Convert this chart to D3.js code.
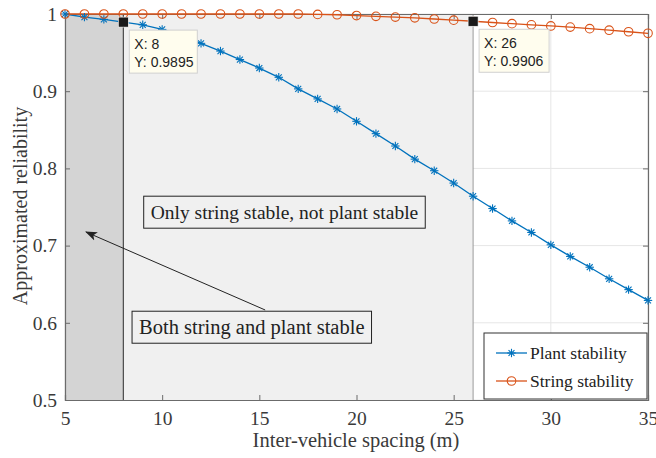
<!DOCTYPE html>
<html>
<head>
<meta charset="utf-8">
<script src="https://cdn.jsdelivr.net/npm/d3@7"></script>
<style>
  body { margin: 0; background: #fff; }
  svg { display: block; }
</style>
</head>
<body>
<div id="viz"></div>
<script>
// Spacing values (m)
var spacing = d3.range(5, 36);

// Plant stability reliability
var plant = [1.000, 0.996, 0.993, 0.9895, 0.986, 0.980, 0.972, 0.962, 0.952, 0.941,
             0.930, 0.918, 0.903, 0.890, 0.877, 0.861, 0.845, 0.829, 0.812, 0.797,
             0.781, 0.764, 0.748, 0.732, 0.717, 0.701, 0.686, 0.672, 0.657, 0.643, 0.629];

// String stability reliability
var string = [1.000, 1.000, 1.000, 1.000, 1.000, 1.000, 1.000, 1.000, 1.000, 1.000,
              1.000, 1.000, 1.000, 0.9995, 0.999, 0.998, 0.997, 0.996, 0.995, 0.9935,
              0.992, 0.9906, 0.989, 0.9875, 0.986, 0.9845, 0.983, 0.981, 0.979, 0.977, 0.975];

var xTicks = [5, 10, 15, 20, 25, 30, 35];
var yTicks = [0.5, 0.6, 0.7, 0.8, 0.9, 1];

// Regions: both stable (5-8), only string stable (8-26)
var regions = [
  {x0: 5, x1: 8, fill: '#d4d4d4', edge: '#2a2a2a'},
  {x0: 8, x1: 26, fill: '#f0f0f0', edge: '#9a9a9a'}
];

// Data tips
var tips = [
  {x: 8, y: 0.9895, label: 'Y: 0.9895'},
  {x: 26, y: 0.9906, label: 'Y: 0.9906'}
];

var margin = {top: 14, right: 8, bottom: 58, left: 65},
    width = 656 - margin.left - margin.right,
    height = 458 - margin.top - margin.bottom;

var svg = d3.select('#viz').append('svg')
  .attr('width', 656)
  .attr('height', 458);

var g = svg.append('g')
  .attr('transform', 'translate(' + margin.left + ',' + margin.top + ')');

var x = d3.scaleLinear().domain([5, 35]).range([0, width]);
var y = d3.scaleLinear().domain([0.5, 1]).range([height, 0]);

var serif = "'Liberation Serif', 'Times New Roman', serif";
var sans = "'Liberation Sans', Arial, sans-serif";

// Grid
g.append('g').selectAll('line.gx')
  .data(xTicks).enter().append('line')
  .attr('x1', d => x(d)).attr('x2', d => x(d))
  .attr('y1', 0).attr('y2', height)
  .attr('stroke', '#e6e6e6').attr('stroke-width', 1);
g.append('g').selectAll('line.gy')
  .data(yTicks).enter().append('line')
  .attr('y1', d => y(d)).attr('y2', d => y(d))
  .attr('x1', 0).attr('x2', width)
  .attr('stroke', '#e6e6e6').attr('stroke-width', 1);

// Shaded regions
g.selectAll('rect.region')
  .data(regions).enter().append('rect')
  .attr('x', d => x(d.x0))
  .attr('width', d => x(d.x1) - x(d.x0))
  .attr('y', y(1)).attr('height', y(0.5) - y(1))
  .attr('fill', d => d.fill);
g.selectAll('line.edge')
  .data(regions).enter().append('line')
  .attr('x1', d => x(d.x1)).attr('x2', d => x(d.x1))
  .attr('y1', y(1)).attr('y2', y(0.5))
  .attr('stroke', d => d.edge).attr('stroke-width', 1);

// Axes (inward ticks, box)
var xAxis = d3.axisBottom(x).tickValues(xTicks).tickSize(-5).tickPadding(9).tickFormat(d3.format('d'));
var yAxis = d3.axisLeft(y).tickValues(yTicks).tickSize(-5).tickPadding(8).tickFormat(d => d === 1 ? '1' : d3.format('.1f')(d));

var gx = g.append('g').attr('transform', 'translate(0,' + height + ')').call(xAxis);
var gy = g.append('g').call(yAxis);
g.append('g').attr('transform', 'translate(0,0)')
  .call(d3.axisTop(x).tickValues(xTicks).tickSize(-5).tickFormat(''));
g.append('g').attr('transform', 'translate(' + width + ',0)')
  .call(d3.axisRight(y).tickValues(yTicks).tickSize(-5).tickFormat(''));

g.selectAll('.domain').attr('stroke', '#6b6b6b').attr('stroke-width', 1.2);
g.selectAll('.tick line').attr('stroke', '#6b6b6b');
g.selectAll('.tick text')
  .attr('font-family', serif).attr('font-size', 19.5).attr('fill', '#3a3a3a');
gx.selectAll('.tick text').attr('dy', '0.8em');

// Axis labels
svg.append('text')
  .attr('x', 356).attr('y', 447)
  .attr('text-anchor', 'middle')
  .attr('font-family', serif).attr('font-size', 20.5).attr('fill', '#3a3a3a')
  .text('Inter-vehicle spacing (m)');
svg.append('text')
  .attr('transform', 'translate(27,' + 206 + ') rotate(-90)')
  .attr('text-anchor', 'middle')
  .attr('font-family', serif).attr('font-size', 20).attr('fill', '#3a3a3a')
  .text('Approximated reliability');

// Lines
var line = d3.line().x((d, i) => x(spacing[i])).y(d => y(d));

g.append('path').datum(plant)
  .attr('d', line).attr('fill', 'none')
  .attr('stroke', '#0072BD').attr('stroke-width', 1.3);
g.append('path').datum(string)
  .attr('d', line).attr('fill', 'none')
  .attr('stroke', '#D95319').attr('stroke-width', 1.3);

// Star markers
function drawStar(sel, cx, cy) {
  var s = sel.append('g').attr('transform', 'translate(' + cx + ',' + cy + ')')
    .attr('stroke', '#0072BD').attr('stroke-width', 1.1).attr('fill', 'none');
  var r = 4.2;
  [0, 45, 90, 135].forEach(function(a) {
    var rad = a * Math.PI / 180;
    s.append('line')
      .attr('x1', -r * Math.cos(rad)).attr('y1', -r * Math.sin(rad))
      .attr('x2', r * Math.cos(rad)).attr('y2', r * Math.sin(rad));
  });
}
var starLayer = g.append('g');
plant.forEach(function(v, i) { drawStar(starLayer, x(spacing[i]), y(v)); });

g.append('g').selectAll('circle')
  .data(string).enter().append('circle')
  .attr('cx', (d, i) => x(spacing[i])).attr('cy', d => y(d))
  .attr('r', 4.3).attr('fill', 'none')
  .attr('stroke', '#D95319').attr('stroke-width', 1.1);

// Data tips
tips.forEach(function(t) {
  var px = x(t.x), py = y(t.y);
  g.append('rect')
    .attr('x', px - 5).attr('y', py - 5).attr('width', 10).attr('height', 10)
    .attr('fill', '#1a1a1a').attr('stroke', '#fff').attr('stroke-width', 0.6);
  var box = g.append('g').attr('transform', 'translate(' + (px + 6) + ',' + (py + 8) + ')');
  box.append('rect')
    .attr('width', t.x < 10 ? 68 : 70).attr('height', 43)
    .attr('fill', '#fffdee').attr('stroke', '#d0d0d0').attr('stroke-width', 1);
  box.append('text').attr('x', 5).attr('y', 19)
    .attr('font-family', sans).attr('font-size', 14).attr('fill', '#222')
    .text('X: ' + t.x);
  box.append('text').attr('x', 5).attr('y', 37)
    .attr('font-family', sans).attr('font-size', 14).attr('fill', '#222')
    .text(t.label);
});

// Text annotations
function textBox(tx, ty, label, size) {
  var tb = g.append('g').attr('transform', 'translate(' + x(tx) + ',' + y(ty) + ')');
  var t = tb.append('text').attr('x', 7).attr('y', 23)
    .attr('font-family', serif).attr('font-size', size).attr('fill', '#222')
    .text(label);
  var bb = t.node().getBBox();
  tb.insert('rect', 'text')
    .attr('width', bb.width + 14).attr('height', 32)
    .attr('fill', 'none').attr('stroke', '#222').attr('stroke-width', 1);
}
textBox(9.05, 0.764, 'Only string stable, not plant stable', 19.5);
textBox(8.45, 0.615, 'Both string and plant stable', 20.5);

// Arrow
svg.append('defs').append('marker')
  .attr('id', 'arrow').attr('viewBox', '0 -5 12 10')
  .attr('refX', 11).attr('refY', 0)
  .attr('markerWidth', 12).attr('markerHeight', 10)
  .attr('markerUnits', 'userSpaceOnUse')
  .attr('orient', 'auto')
  .append('path').attr('d', 'M0,-4.5L12,0L0,4.5L3,0Z').attr('fill', '#222');
g.append('line')
  .attr('x1', x(15.3)).attr('y1', y(0.6166))
  .attr('x2', x(6.08)).attr('y2', y(0.7176))
  .attr('stroke', '#222').attr('stroke-width', 1)
  .attr('marker-end', 'url(#arrow)');

// Legend
var legendItems = [
  {label: 'Plant stability', color: '#0072BD', type: 'star'},
  {label: 'String stability', color: '#D95319', type: 'circle'}
];
var lg = g.append('g').attr('transform', 'translate(' + (width - 164) + ',' + (height - 67) + ')');
lg.append('rect').attr('width', 163).attr('height', 66)
  .attr('fill', '#fff').attr('stroke', '#333').attr('stroke-width', 1);
legendItems.forEach(function(d, i) {
  var ly = 20 + i * 28;
  lg.append('line').attr('x1', 12).attr('x2', 43).attr('y1', ly).attr('y2', ly)
    .attr('stroke', d.color).attr('stroke-width', 1.3);
  if (d.type === 'star') {
    drawStar(lg, 27.5, ly);
  } else {
    lg.append('circle').attr('cx', 27.5).attr('cy', ly).attr('r', 4.3)
      .attr('fill', 'none').attr('stroke', d.color).attr('stroke-width', 1.1);
  }
  lg.append('text').attr('x', 46).attr('y', ly + 6)
    .attr('font-family', serif).attr('font-size', 17.5).attr('fill', '#222')
    .text(d.label);
});
</script>
</body>
</html>
